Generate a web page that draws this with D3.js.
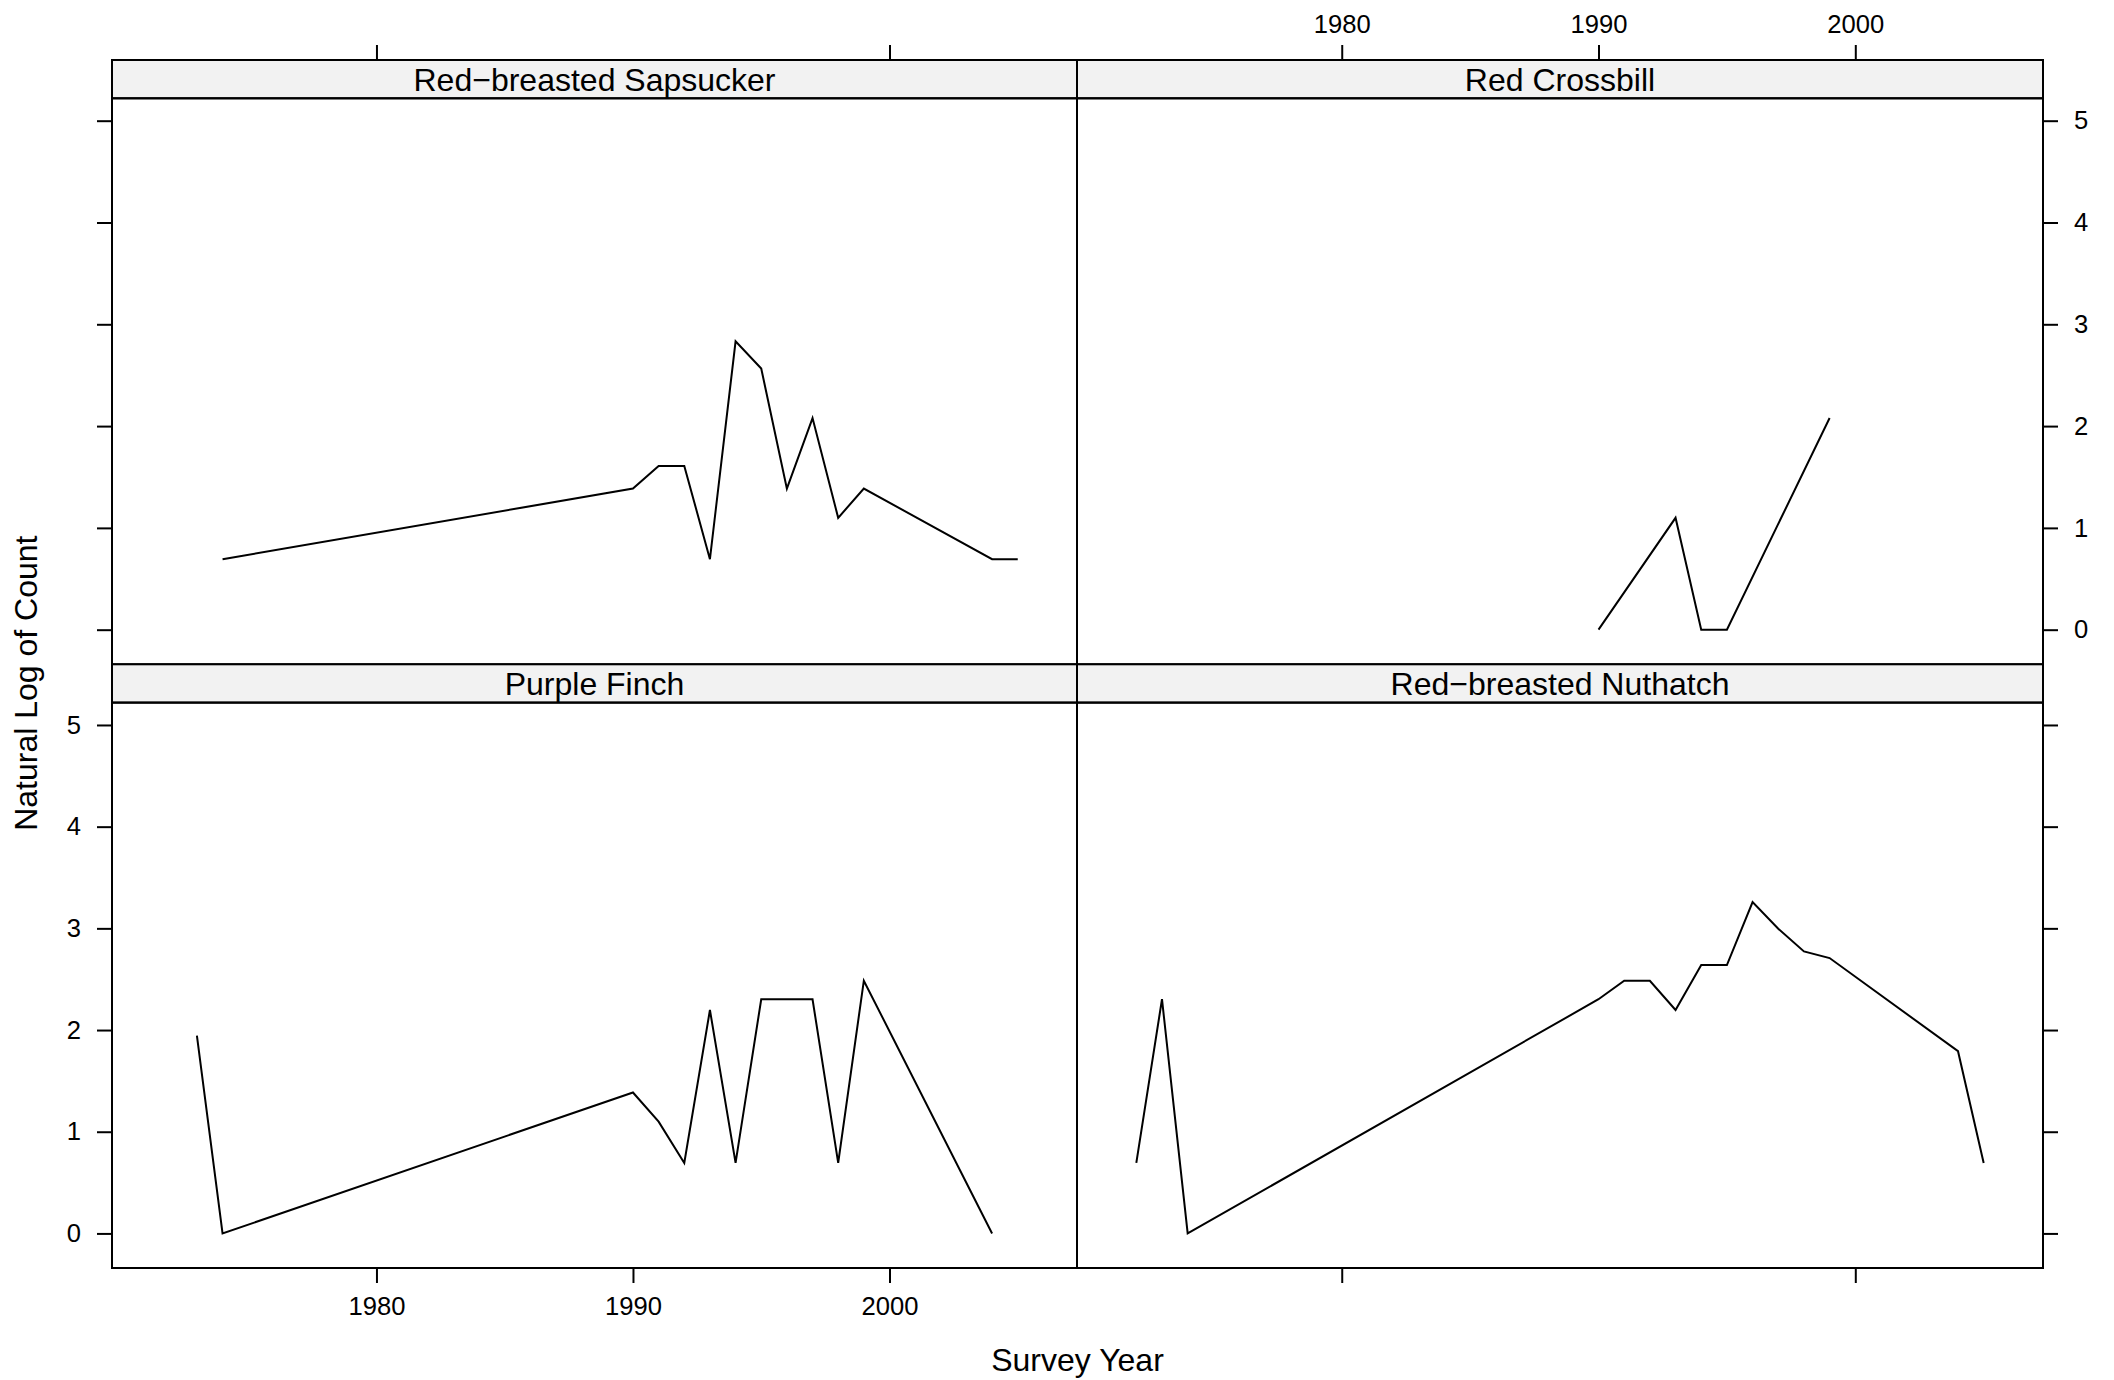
<!DOCTYPE html>
<html>
<head>
<meta charset="utf-8">
<script src="https://cdn.jsdelivr.net/npm/d3@7"></script>
<style>
  html, body { margin: 0; padding: 0; background: #ffffff; }
  svg { display: block; }
  text { font-family: "Liberation Sans", Arial, Helvetica, sans-serif; fill: #000; }
</style>
</head>
<body>
<svg id="chart" width="2114" height="1380"></svg>
<script>
// ---- data (natural log of count) ----
const panelTitles = ["Red\u2212breasted Sapsucker", "Red Crossbill", "Purple Finch", "Red\u2212breasted Nuthatch"];

const sapsuckerYears  = [1974, 1990, 1991, 1992, 1993, 1994, 1995, 1996, 1997, 1998, 1999, 2004, 2005];
const sapsuckerValues = [0.693, 1.386, 1.609, 1.609, 0.693, 2.833, 2.565, 1.386, 2.079, 1.099, 1.386, 0.693, 0.693];

const crossbillYears  = [1990, 1993, 1994, 1995, 1999];
const crossbillValues = [0, 1.099, 0, 0, 2.079];

const finchYears  = [1973, 1974, 1990, 1991, 1992, 1993, 1994, 1995, 1996, 1997, 1998, 1999, 2004];
const finchValues = [1.946, 0, 1.386, 1.099, 0.693, 2.197, 0.693, 2.303, 2.303, 2.303, 0.693, 2.485, 0];

const nuthatchYears  = [1972, 1973, 1974, 1990, 1991, 1992, 1993, 1994, 1995, 1996, 1997, 1998, 1999, 2004, 2005];
const nuthatchValues = [0.693, 2.303, 0, 2.303, 2.485, 2.485, 2.197, 2.639, 2.639, 3.258, 2.996, 2.773, 2.708, 1.792, 0.693];

const xTicks = [1980, 1990, 2000];
const yTicks = [0, 1, 2, 3, 4, 5];
const xLabel = "Survey Year";
const yLabel = "Natural Log of Count";

// ---- layout ----
const svg = d3.select("#chart");
const L = 112, M = 1077, R = 2043;
const T = 60, stripH = 38.3;
const upStripTop = T, upPlotTop = T + stripH, upPlotBot = 664.3;
const loStripTop = 664.3, loPlotTop = 664.3 + stripH, loPlotBot = 1268;
const xDomain = [1969.69, 2007.31];
const yDomain = [-0.34, 5.22];
const tickLen = 15;
const tickFont = 25.6, titleFont = 32;

const panels = [
  { title: panelTitles[0], years: sapsuckerYears, values: sapsuckerValues, col: 0, row: 0 },
  { title: panelTitles[1], years: crossbillYears, values: crossbillValues, col: 1, row: 0 },
  { title: panelTitles[2], years: finchYears, values: finchValues, col: 0, row: 1 },
  { title: panelTitles[3], years: nuthatchYears, values: nuthatchValues, col: 1, row: 1 }
];

function xScale(col) {
  return d3.scaleLinear().domain(xDomain).range(col === 0 ? [L, M] : [M, R]);
}
function yScale(row) {
  return d3.scaleLinear().domain(yDomain).range(row === 0 ? [upPlotBot, upPlotTop] : [loPlotBot, loPlotTop]);
}

panels.forEach(p => {
  const x = xScale(p.col), y = yScale(p.row);
  const x0 = p.col === 0 ? L : M, x1 = p.col === 0 ? M : R;
  const sTop = p.row === 0 ? upStripTop : loStripTop;
  const pTop = p.row === 0 ? upPlotTop : loPlotTop;
  const pBot = p.row === 0 ? upPlotBot : loPlotBot;
  const g = svg.append("g");

  // strip
  g.append("rect").attr("x", x0).attr("y", sTop).attr("width", x1 - x0).attr("height", stripH)
    .attr("fill", "#f2f2f2").attr("stroke", "#000").attr("stroke-width", 2);
  g.append("text").attr("x", (x0 + x1) / 2).attr("y", sTop + stripH / 2 + 1)
    .attr("text-anchor", "middle").attr("dominant-baseline", "central")
    .style("font-size", titleFont + "px").text(p.title);

  // data line
  const pts = p.years.map((yr, i) => [yr, p.values[i]]);
  g.append("path").datum(pts)
    .attr("d", d3.line().x(d => x(d[0])).y(d => y(d[1])))
    .attr("fill", "none").attr("stroke", "#000").attr("stroke-width", 2)
    .attr("stroke-linejoin", "miter");

  // panel border
  g.append("rect").attr("x", x0).attr("y", pTop).attr("width", x1 - x0).attr("height", pBot - pTop)
    .attr("fill", "none").attr("stroke", "#000").attr("stroke-width", 2);
});

function styleAxis(sel) {
  sel.select(".domain").remove();
  sel.selectAll(".tick line").attr("stroke", "#000").attr("stroke-width", 2);
  sel.selectAll(".tick text").style("font-size", tickFont + "px").attr("fill", "#000");
}

// top axes
svg.append("g").attr("transform", `translate(0,${upStripTop})`)
  .call(d3.axisTop(xScale(0)).tickValues([1980, 2000]).tickSize(tickLen).tickFormat(""))
  .call(styleAxis);
svg.append("g").attr("transform", `translate(0,${upStripTop})`)
  .call(d3.axisTop(xScale(1)).tickValues(xTicks).tickSize(tickLen).tickPadding(12).tickFormat(d3.format("d")))
  .call(styleAxis);
// bottom axes
svg.append("g").attr("transform", `translate(0,${loPlotBot})`)
  .call(d3.axisBottom(xScale(0)).tickValues(xTicks).tickSize(tickLen).tickPadding(14).tickFormat(d3.format("d")))
  .call(styleAxis);
svg.append("g").attr("transform", `translate(0,${loPlotBot})`)
  .call(d3.axisBottom(xScale(1)).tickValues([1980, 2000]).tickSize(tickLen).tickFormat(""))
  .call(styleAxis);
// left axes
svg.append("g").attr("transform", `translate(${L},0)`)
  .call(d3.axisLeft(yScale(0)).tickValues(yTicks).tickSize(tickLen).tickFormat(""))
  .call(styleAxis);
svg.append("g").attr("transform", `translate(${L},0)`)
  .call(d3.axisLeft(yScale(1)).tickValues(yTicks).tickSize(tickLen).tickPadding(16).tickFormat(d3.format("d")))
  .call(styleAxis);
// right axes
svg.append("g").attr("transform", `translate(${R},0)`)
  .call(d3.axisRight(yScale(0)).tickValues(yTicks).tickSize(tickLen).tickPadding(16).tickFormat(d3.format("d")))
  .call(styleAxis);
svg.append("g").attr("transform", `translate(${R},0)`)
  .call(d3.axisRight(yScale(1)).tickValues(yTicks).tickSize(tickLen).tickFormat(""))
  .call(styleAxis);

// axis titles
svg.append("text").attr("x", (L + R) / 2).attr("y", 1360)
  .attr("text-anchor", "middle").attr("dominant-baseline", "central")
  .style("font-size", titleFont + "px").text(xLabel);
svg.append("text").attr("transform", `translate(26,${(upPlotTop + loPlotBot) / 2}) rotate(-90)`)
  .attr("text-anchor", "middle").attr("dominant-baseline", "central")
  .style("font-size", titleFont + "px").text(yLabel);
</script>
</body>
</html>
